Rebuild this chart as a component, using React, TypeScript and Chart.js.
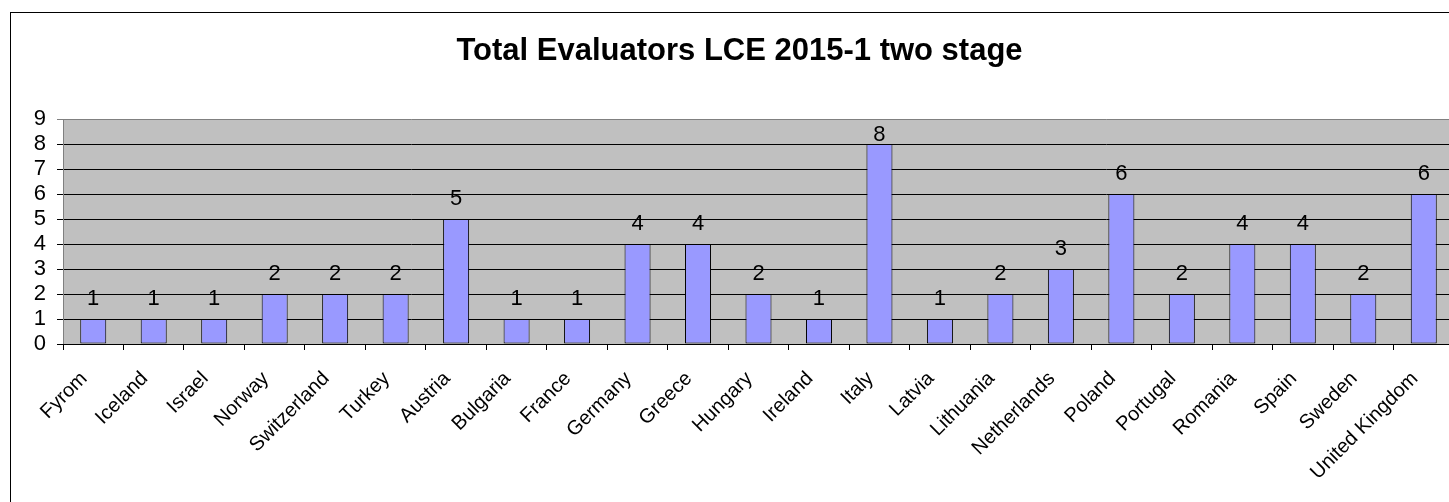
import React, { useEffect, useRef } from "react";
import { Chart, registerables } from "chart.js";

Chart.register(...registerables);

const TITLE = "Total Evaluators LCE 2015-1 two stage";
const countries = [
  "Fyrom", "Iceland", "Israel", "Norway", "Switzerland", "Turkey", "Austria",
  "Bulgaria", "France", "Germany", "Greece", "Hungary", "Ireland", "Italy",
  "Latvia", "Lithuania", "Netherlands", "Poland", "Portugal", "Romania",
  "Spain", "Sweden", "United Kingdom",
];
const evaluators = [1, 1, 1, 2, 2, 2, 5, 1, 1, 4, 4, 2, 1, 8, 1, 2, 3, 6, 2, 4, 4, 2, 6];
const yTicks = [0, 1, 2, 3, 4, 5, 6, 7, 8, 9];

const FONT = "'Liberation Sans', Arial, sans-serif";
const CW = 1462;
const CH = 502;

const framePlugin = {
  id: "frame",
  beforeDraw(chart: any) {
    const ctx = chart.ctx;
    const a = chart.chartArea;
    ctx.save();
    ctx.fillStyle = "#ffffff";
    ctx.fillRect(0, 0, chart.width, chart.height);
    ctx.strokeStyle = "#000000";
    ctx.lineWidth = 1;
    ctx.strokeRect(10.5, 12.5, chart.width + 20, chart.height + 20);
    ctx.fillStyle = "#C0C0C0";
    ctx.fillRect(a.left, a.top, a.right - a.left, a.bottom - a.top);
    ctx.fillStyle = "#000000";
    ctx.font = `bold 31px ${FONT}`;
    ctx.textAlign = "center";
    ctx.textBaseline = "alphabetic";
    ctx.fillText(TITLE, 739.5, 60);
    ctx.restore();
  },
  afterDraw(chart: any) {
    const ctx = chart.ctx;
    const a = chart.chartArea;
    ctx.save();
    ctx.strokeStyle = "#000000";
    ctx.lineWidth = 1;
    ctx.beginPath();
    ctx.moveTo(a.left, Math.round(a.bottom) + 0.5);
    ctx.lineTo(a.right, Math.round(a.bottom) + 0.5);
    ctx.stroke();
    ctx.restore();
  },
};

const labelPlugin = {
  id: "barLabels",
  afterDatasetsDraw(chart: any) {
    const ctx = chart.ctx;
    const meta = chart.getDatasetMeta(0);
    const top = chart.chartArea.top;
    ctx.save();
    ctx.fillStyle = "#000000";
    ctx.font = `22px ${FONT}`;
    ctx.textAlign = "center";
    ctx.textBaseline = "alphabetic";
    meta.data.forEach((el: any, i: number) => {
      const v = chart.data.datasets[0].data[i];
      const y = Math.max(el.y - 14, top + 22);
      ctx.fillText(String(v), el.x, y);
    });
    ctx.restore();
  },
};

export default function App() {
  const ref = useRef<HTMLCanvasElement | null>(null);
  useEffect(() => {
    if (!ref.current) return;
    const chart = new Chart(ref.current, {
      type: "bar",
      data: {
        labels: countries,
        datasets: [
          {
            data: evaluators,
            backgroundColor: "#9999FF",
            borderColor: "#000000",
            borderWidth: 1,
            borderSkipped: false,
            barPercentage: 0.43,
            categoryPercentage: 1,
          },
        ],
      },
      options: {
        responsive: false,
        animation: false,
        devicePixelRatio: 1,
        layout: { padding: { left: 10, right: 8, top: 119, bottom: 0 } },
        plugins: {
          legend: { display: false },
          tooltip: { enabled: false },
          title: { display: false },
        },
        scales: {
          x: {
            offset: true,
            grid: {
              offset: true,
              drawOnChartArea: false,
              drawTicks: true,
              tickLength: 6,
              color: "#000000",
            },
            border: { display: true, color: "#000000" },
            ticks: {
              autoSkip: false,
              maxRotation: 45,
              minRotation: 45,
              color: "#000000",
              padding: 17,
              labelOffset: -9,
              font: { family: FONT, size: 20 },
            },
            afterFit: (s: any) => {
              s.height = 158;
            },
          },
          y: {
            min: yTicks[0],
            max: yTicks[yTicks.length - 1],
            afterBuildTicks: (s: any) => {
              s.ticks = yTicks.map((v) => ({ value: v }));
            },
            grid: {
              color: (c: any) => (c.tick && c.tick.value === 9 ? "#808080" : "#000000"),
              tickLength: 6,
            },
            border: { display: true, color: "#808080" },
            ticks: {
              autoSkip: false,
              stepSize: 1,
              color: "#000000",
              padding: 11,
              font: { family: FONT, size: 22 },
            },
            afterFit: (s: any) => {
              s.width = 53;
            },
          },
        },
      },
      plugins: [framePlugin, labelPlugin],
    });
    return () => chart.destroy();
  }, []);
  return (
    <div
      style={{
        position: "fixed",
        left: 0,
        top: 0,
        width: 1449,
        height: 502,
        overflow: "hidden",
        background: "#fff",
      }}
    >
      <canvas ref={ref} width={CW} height={CH} style={{ display: "block", width: CW, height: CH }} />
    </div>
  );
}
